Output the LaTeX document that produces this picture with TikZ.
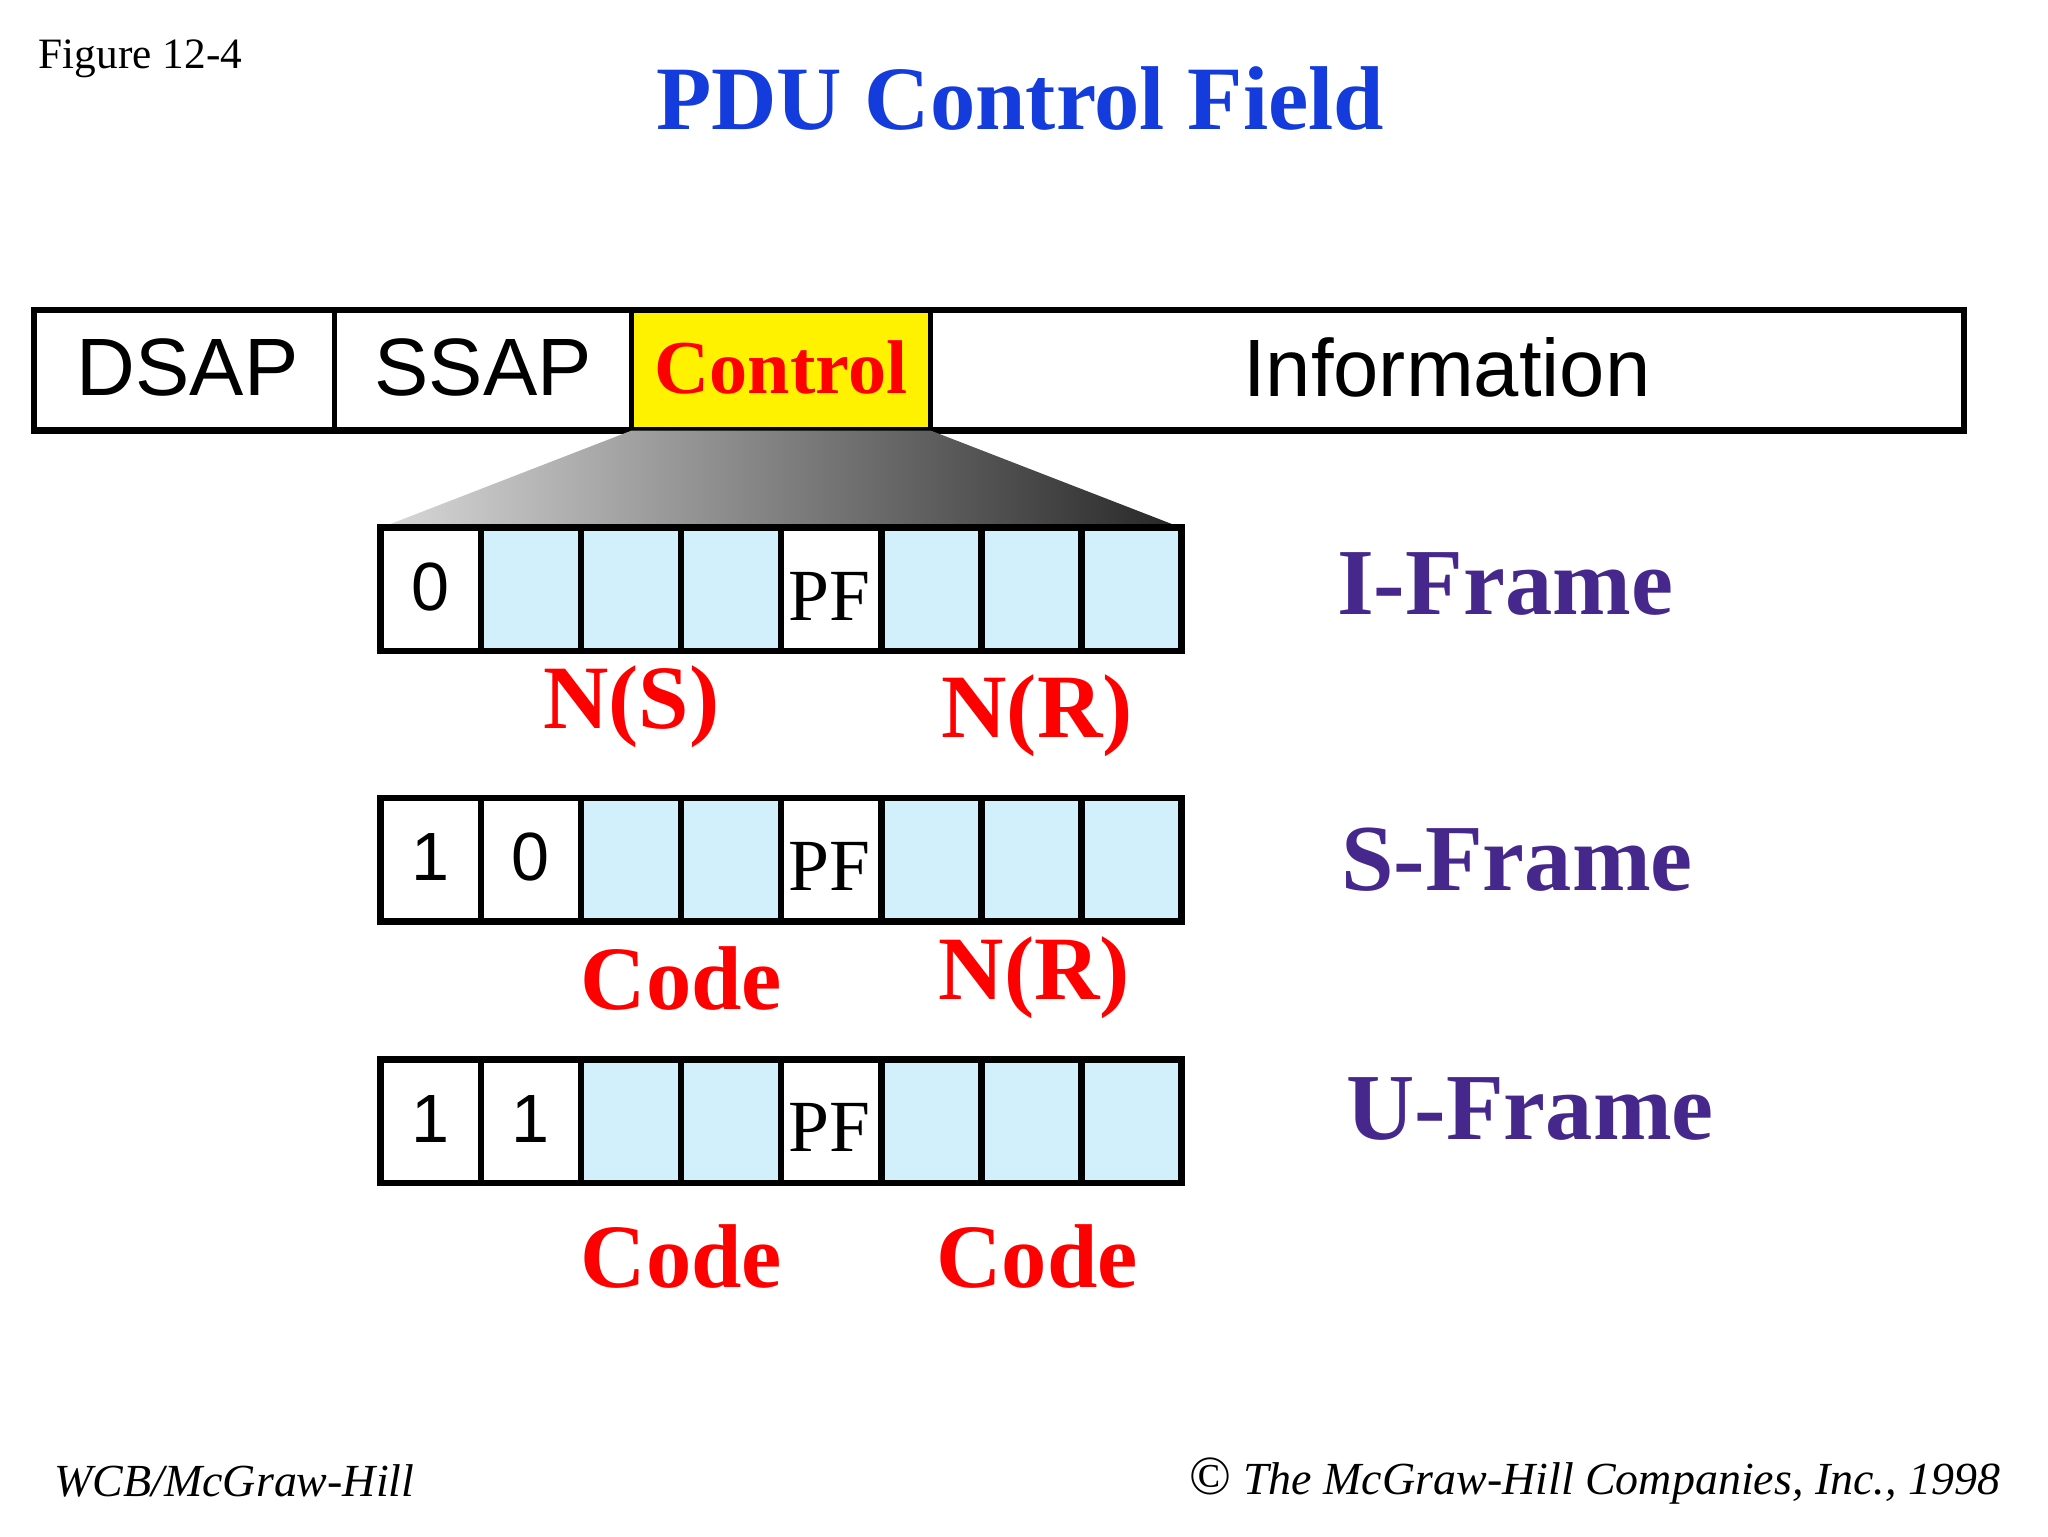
\documentclass[tikz,border=0pt]{standalone}
\usepackage{fontspec}
\setmainfont{Liberation Serif}
\newfontfamily\sansf{Liberation Sans}
\begin{document}
\begin{tikzpicture}[x=1pt,y=-1pt,
  cell/.style={draw=black,line width=5pt,fill=cyan!18!white},
  wcell/.style={draw=black,line width=5pt,fill=white},
  redlab/.style={text=red,font=\bfseries\fontsize{69}{72}\selectfont},
  framelab/.style={text={rgb,255:red,70;green,40;blue,140},font=\bfseries\fontsize{72}{76}\selectfont,anchor=west},
  barlab/.style={font=\sansf\fontsize{62}{64}\selectfont}]
\useasboundingbox (0,0) rectangle (1560,1170);
\node[anchor=west,font=\fontsize{33}{36}\selectfont] (fig) at (26,45) {Figure 12-4};
\node[text={rgb,255:red,20;green,60;blue,220},font=\bfseries\fontsize{69}{74}\selectfont] (title) at (777,75) {PDU Control Field};
% top bar
\fill[yellow] (481,236) rectangle (709,328);
\draw[line width=5pt] (26,236) rectangle (1496,328);
\draw[line width=4pt] (255,236) -- (255,328) (481,236) -- (481,328) (709,236) -- (709,328);
\node[barlab] (dsap) at (143,280) {DSAP};
\node[barlab] (ssap) at (368,280) {SSAP};
\node[text=red,font=\bfseries\fontsize{58}{60}\selectfont] (ctrl) at (595,280) {Control};
\node[barlab] (info) at (1102,280) {Information};
% trapezoid
\shade[left color=white!85!black,right color=black!85] (481,328) -- (709,328) -- (900,402) -- (290,402) -- cycle;
% frames
\foreach \y/\a/\b [count=\r] in {402/0/,608/1/0,807/1/1}{
  \foreach \i in {0,...,7}{
    \pgfmathsetmacro\xa{290+76.25*\i}
    \pgfmathsetmacro\xb{290+76.25*(\i+1)}
    \draw[cell] (\xa,\y) rectangle (\xb,\y+94);
  }
  \draw[wcell] (290,\y) rectangle (366.25,\y+94);
  \node[font=\sansf\fontsize{52}{56}\selectfont] at (328,\y+45) {\a};
  \draw[wcell] (595,\y) rectangle (671.25,\y+94);
  \node[font=\fontsize{56}{58}\selectfont] at (632,\y+52) {PF};
}
\draw[wcell] (366.25,608) rectangle (442.5,702);
\node[font=\sansf\fontsize{52}{56}\selectfont] at (404,653) {0};
\draw[wcell] (366.25,807) rectangle (442.5,901);
\node[font=\sansf\fontsize{52}{56}\selectfont] at (404,852) {1};
% labels
\node[redlab] (ns) at (481,538) {N(S)};
\node[redlab] (nr1) at (790,545) {N(R)};
\node[redlab] (c1) at (519,745) {Code};
\node[redlab] (nr2) at (788,745) {N(R)};
\node[redlab] (c2) at (519,957) {Code};
\node[redlab] (c3) at (790,957) {Code};
\node[framelab] (if) at (1015,445) {I-Frame};
\node[framelab] (sf) at (1018,655) {S-Frame};
\node[framelab] (uf) at (1022,845) {U-Frame};
% footer
\node[anchor=west,font=\itshape\fontsize{35}{38}\selectfont] (l) at (38,1128) {WCB/McGraw-Hill};
\node[anchor=east,font=\itshape\fontsize{35}{38}\selectfont] (r) at (1527,1128) {\upshape\fontsize{42}{44}\selectfont ©\itshape\fontsize{35}{38}\selectfont\ The McGraw-Hill Companies, Inc., 1998};
\end{tikzpicture}
\end{document}
